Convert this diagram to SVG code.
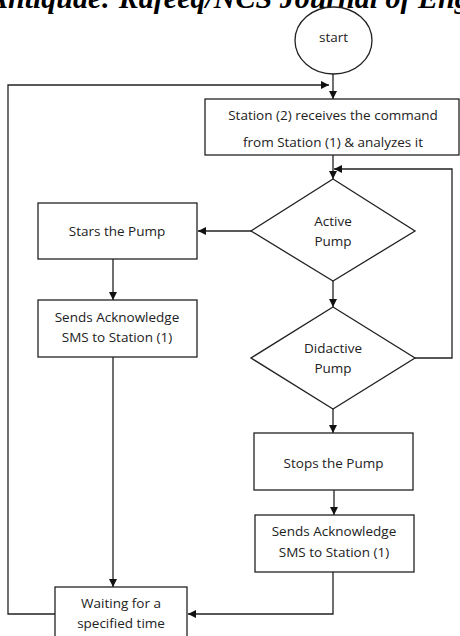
<svg xmlns="http://www.w3.org/2000/svg" width="460" height="636" viewBox="0 0 460 636">
<style>
.box{fill:#fff;stroke:#222;stroke-width:1.3}
.ln{fill:none;stroke:#222;stroke-width:1.3}
.t{font-family:"Open Sans","Liberation Sans",sans-serif;font-size:13.5px;fill:#222;text-anchor:middle}
.hd{font-family:"Liberation Serif",serif;font-size:30px;font-weight:bold;font-style:italic;fill:#000}
</style>
<defs>
<marker id="ah" viewBox="0 0 10 10" refX="10" refY="5" markerWidth="8" markerHeight="8" markerUnits="userSpaceOnUse" orient="auto">
<path d="M0,0 L10,5 L0,10 z" fill="#111"/>
</marker>
</defs>
<text class="hd" x="-12" y="8">Antiquae: Rafeeq/NCS Journal of Eng</text>
<g id="connectors">
<path class="ln" d="M333,74 V99" marker-end="url(#ah)"/>
<path class="ln" d="M55,614 H8 V85 H329" marker-end="url(#ah)"/>
<path class="ln" d="M333,155 V179" marker-end="url(#ah)"/>
<path class="ln" d="M415,358 H452 V169 H334" marker-end="url(#ah)"/>
<path class="ln" d="M251,231 H198" marker-end="url(#ah)"/>
<path class="ln" d="M113,259 V300" marker-end="url(#ah)"/>
<path class="ln" d="M113,357 V587" marker-end="url(#ah)"/>
<path class="ln" d="M333,281 V307" marker-end="url(#ah)"/>
<path class="ln" d="M333,409 V433" marker-end="url(#ah)"/>
<path class="ln" d="M334,490 V515" marker-end="url(#ah)"/>
<path class="ln" d="M333,572 V614 H188" marker-end="url(#ah)"/>
</g>
<g id="start">
<ellipse class="box" cx="333.5" cy="40.5" rx="38.5" ry="33.5"/>
<text class="t" x="333.5" y="42">start</text>
</g>
<g id="receive">
<rect class="box" x="205" y="99" width="254" height="56"/>
<text class="t" x="333" y="120">Station (2) receives the command</text>
<text class="t" x="333" y="147">from Station (1) &amp; analyzes it</text>
</g>
<g id="active">
<polygon class="box" points="333,179 415,231 333,281 251,231"/>
<text class="t" x="333" y="226">Active</text>
<text class="t" x="333" y="246">Pump</text>
</g>
<g id="starts">
<rect class="box" x="38" y="203" width="159" height="56"/>
<text class="t" x="117" y="236">Stars the Pump</text>
</g>
<g id="ack1">
<rect class="box" x="38" y="300" width="159" height="57"/>
<text class="t" x="117" y="322">Sends Acknowledge</text>
<text class="t" x="117" y="342">SMS to Station (1)</text>
</g>
<g id="didactive">
<polygon class="box" points="333,307 415,358 333,409 251,358"/>
<text class="t" x="333" y="353">Didactive</text>
<text class="t" x="333" y="373">Pump</text>
</g>
<g id="stops">
<rect class="box" x="254" y="433" width="159" height="57"/>
<text class="t" x="333.5" y="468">Stops the Pump</text>
</g>
<g id="ack2">
<rect class="box" x="255" y="515" width="159" height="57"/>
<text class="t" x="334" y="536">Sends Acknowledge</text>
<text class="t" x="334" y="557">SMS to Station (1)</text>
</g>
<g id="waiting">
<rect class="box" x="55" y="587" width="132" height="60"/>
<text class="t" x="121" y="608">Waiting for a</text>
<text class="t" x="121" y="628">specified time</text>
</g>
</svg>
